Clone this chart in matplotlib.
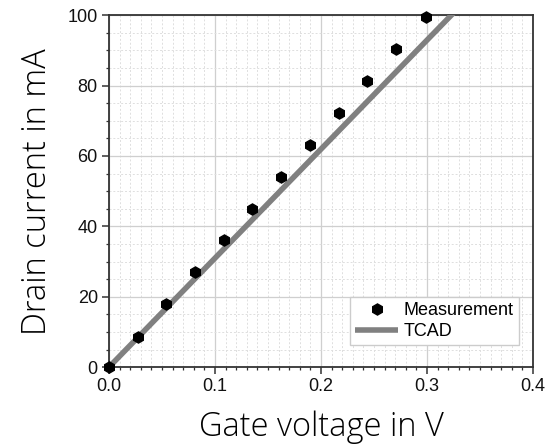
import matplotlib
matplotlib.use("Agg")
import matplotlib.pyplot as plt
from matplotlib.ticker import MultipleLocator

# Data
meas_v = [0.0, 0.027, 0.0535, 0.081, 0.1085, 0.1348, 0.1625, 0.1897, 0.2170, 0.2437, 0.2706, 0.2992]
meas_i = [0.0, 8.7, 18.0, 27.0, 36.1, 45.0, 54.1, 63.2, 72.3, 81.3, 90.3, 99.6]
tcad_v = [0.0, 0.35]
tcad_i = [0.0, 108.4]
xticks = [0.0, 0.1, 0.2, 0.3, 0.4]
yticks = [0, 20, 40, 60, 80, 100]

fig = plt.figure(figsize=(5.49, 4.45), dpi=100)
ax = fig.add_axes([0.1985, 0.175, 0.7725, 0.791])

ax.plot(tcad_v, tcad_i, color="#808080", lw=4.0, label="TCAD", zorder=3, solid_capstyle="butt")
ax.plot(meas_v, meas_i, linestyle="none", marker="h", ms=8, color="black", label="Measurement", zorder=4, clip_on=False)

ax.set_xlim(0, 0.4)
ax.set_ylim(0, 100)
ax.set_xticks(xticks)
ax.set_yticks(yticks)
ax.set_xticklabels([f"{t:.1f}" for t in xticks])
ax.set_yticklabels([str(t) for t in yticks])
ax.xaxis.set_minor_locator(MultipleLocator(0.01))
ax.yaxis.set_minor_locator(MultipleLocator(5))

ax.grid(which="major", color="#cfcfcf", lw=0.9, linestyle="-", zorder=0)
ax.grid(which="minor", color="#dedede", lw=0.7, linestyle=(0, (2, 2)), zorder=0)
ax.set_axisbelow(True)

for s in ax.spines.values():
    s.set_color("#333333")
    s.set_linewidth(1.3)

ax.tick_params(which="major", direction="out", length=5, width=1.1, color="#333333",
               labelsize=13, labelcolor="#111111", pad=3)
ax.tick_params(which="minor", direction="out", length=2.5, width=0.9, color="#333333")
for lbl in ax.get_xticklabels() + ax.get_yticklabels():
    lbl.set_fontfamily("Liberation Sans")

ax.set_xlabel("Gate voltage in V", fontsize=23.5, fontfamily="Open Sans", fontweight="light",
              labelpad=11, color="#000000")
ax.set_ylabel("Drain current in mA", fontsize=23.5, fontfamily="Open Sans", fontweight="light",
              labelpad=10, color="#000000")

handles, labels = ax.get_legend_handles_labels()
leg = ax.legend(handles[::-1], labels[::-1], loc="lower right", bbox_to_anchor=(0.967, 0.062),
                borderaxespad=0,
                prop={"family": "Liberation Sans", "size": 13}, frameon=True, fancybox=False,
                edgecolor="#cccccc", framealpha=1, handlelength=2.4, handletextpad=0.3,
                borderpad=0.3, labelspacing=0.2)
leg.get_frame().set_linewidth(1.0)

fig.savefig("out.png", dpi=100)
